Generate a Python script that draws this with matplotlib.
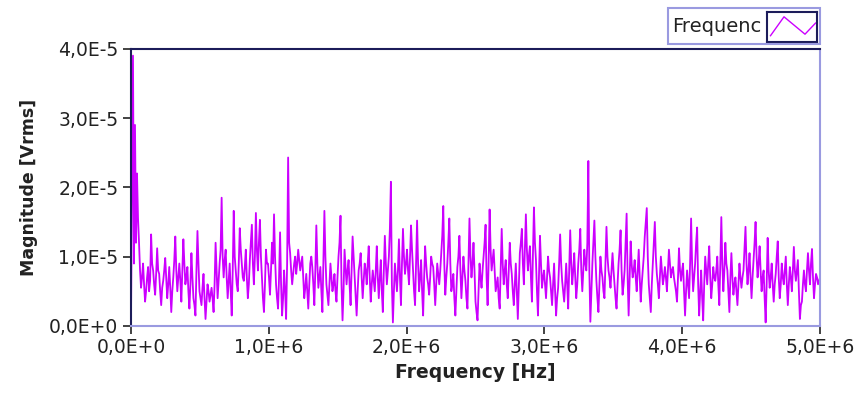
import numpy as np
import matplotlib
matplotlib.use("Agg")
import matplotlib.pyplot as plt
from matplotlib.ticker import FuncFormatter
from matplotlib.patches import Rectangle

# spectrum magnitude, in microvolts rms, evenly spaced from 0 to 5 MHz
magnitude_uv = [
    # 0 - 1 MHz
    0.5, 19.5, 39, 9, 29, 12, 22, 15.5, 12, 8,
    5.5, 7, 9, 6, 3.5, 5, 7, 8.5, 5, 6.5, 13.2, 9, 8, 6, 4.5, 7.5, 11.2, 8, 7.5, 5,
    3, 5.5, 6.5, 8, 9.8, 7, 4, 6, 8.5, 5.5, 2, 5, 7, 9.5, 12.9, 8, 5, 7, 9, 6.5,
    3.5, 8, 12.5, 9, 6, 7, 8.5, 5, 2.5, 6, 10.5, 7, 4, 3, 1.5, 8, 13.7, 9, 5, 4,
    3, 5.5, 7.5, 4, 1, 3.5, 6, 5, 3.5, 4.5, 5.5, 4, 2, 6, 12, 8, 4, 6.5, 9, 11,
    18.5, 10, 7, 9.5, 11, 7, 4, 6.5, 9, 5, 1.5, 8, 16.6, 10, 8, 6, 5, 9, 14.1, 11,
    9, 7, 6.5, 8.5, 11, 7, 4, 6, 9.5, 12, 14.6, 9, 6, 10, 16.3, 11, 8, 12, 15.3, 10,
    7, 4, 2, 6, 11, 9,
    # 1 - 2 MHz
    9, 7, 4.5, 8, 12, 9, 16.1, 10, 6, 4, 2.5, 7, 13.5, 6, 1.5, 4, 8, 5, 1, 9,
    24.3, 12, 10.5, 8, 6, 7.5, 9, 10, 7.5, 9, 11, 9.5, 8, 9, 10, 7, 4, 5.5, 7.5, 5,
    2.5, 6, 9, 10, 8.5, 6, 3, 8, 14.5, 9, 5.5, 7, 8.5, 5, 2, 9, 16.6, 10, 6, 4.5,
    3, 6, 9, 7, 5, 6, 7.5, 5, 3.5, 7, 10, 12, 15.9, 6, 0.8, 5, 11, 8.5, 6, 8,
    9.5, 6, 3, 8, 12.9, 10, 7, 4, 1.5, 5, 8, 9, 10.5, 7, 4, 6.5, 9, 8, 6, 9,
    11.5, 7, 3.5, 6, 8, 6.5, 5, 8, 11.5, 7, 4, 7, 9.5, 5, 2, 8, 13, 9, 6, 8,
    10, 14, 20.8, 6, 0.5, 5, 9, 7, 5, 8, 12.5, 7, 3, 9, 14, 10, 7.5, 9, 11, 8,
    # 2 - 3 MHz
    6, 10, 14.5, 11, 8, 5, 3, 9, 15.2, 9, 5, 7, 9.5, 5, 1.5, 7, 11.5, 9, 7, 6,
    4.5, 7, 10, 9, 8.5, 6, 3, 6, 9, 7.5, 6, 8, 10.5, 13, 17.3, 9, 4.5, 7, 9, 12,
    15.5, 9, 5, 6, 7.5, 4, 1.5, 5, 8.5, 10, 13, 8, 4, 7, 10, 8, 6.5, 4, 2.5, 9,
    15.5, 10, 7, 9, 12, 8, 3.5, 2, 0.8, 5, 9, 7, 5.5, 8, 10, 12, 14.6, 7, 3, 9,
    16.8, 11, 8, 9.5, 11, 8, 5, 6, 7, 4, 2.5, 8, 14, 9, 6, 8, 9.5, 6, 4, 8,
    12, 9, 7.5, 5, 3, 6, 9, 5, 1, 6, 10.5, 12, 14, 9, 6, 11, 16.1, 11, 8, 10,
    11.5, 7, 3.5, 10, 17.1, 12, 9.5, 5, 1.5, 7, 13, 9, 5.5, 7, 8, 6, 4, 7, 10, 8,
    # 3 - 4 MHz
    7, 5, 3, 6, 9, 5, 1.5, 4, 5.5, 9, 13.2, 9, 6.5, 5, 3.5, 6, 9, 6, 2.5, 8,
    13.8, 9, 6, 8, 10.5, 7, 4, 6, 9, 11, 14, 8, 5, 8, 11, 9, 8, 12, 23.8, 8,
    0.6, 5, 9, 12, 15.2, 10, 6.5, 4, 2, 6, 10, 8, 7, 5, 4, 9, 14.3, 10, 8, 7,
    5.5, 8, 10.5, 8, 6, 4, 2.5, 6, 9, 11, 13.8, 8, 4.5, 6, 8, 12, 16.2, 7, 1.5, 7,
    12.2, 9, 7, 8, 9.5, 7, 5, 8, 11, 7, 3.5, 6, 8, 10, 12.9, 15, 17, 10, 6, 4,
    2, 6, 9, 12, 15, 10, 7.5, 6, 4, 7, 10, 8, 6, 7, 8.5, 7, 5, 8, 11, 9,
    7, 8, 8.5, 7, 6, 5, 3.5, 7, 11.2, 8, 6.5, 8, 9, 5, 1.5, 5, 8, 6, 4, 9,
    # 4 - 5 MHz
    15.5, 9, 5, 7, 9, 12, 14.2, 6, 1.5, 5, 8, 4, 0.8, 6, 10, 8, 6, 9, 11.5, 7,
    4, 6, 8.5, 7, 6.5, 8, 10, 6, 3, 9, 15.7, 9, 5, 8, 12, 9, 8, 5, 2, 7,
    10.5, 7, 4.5, 6, 7, 5, 3, 6, 9, 7, 5.5, 7, 8, 11, 14.3, 9, 6, 8, 10.5, 7,
    4, 7, 9.5, 12, 15, 10, 7, 9, 11.5, 8, 5, 7, 8, 4, 0.5, 6, 12.7, 8, 5.5, 7,
    9, 6, 3.5, 6, 7.5, 10, 12.2, 7, 4, 6, 9, 7, 6, 8, 10, 6, 3, 6, 8.5, 7,
    5, 8, 11.4, 8, 6.5, 8, 9.5, 5, 1, 3, 3.5, 6, 8, 6, 5, 8, 10.5, 8, 6, 9,
    11.1, 7, 4, 6, 7.5, 7, 6, 6.5, 7,
]
f_max = 5.0e6
x_ticks = [0, 1e6, 2e6, 3e6, 4e6, 5e6]
y_ticks = [0, 1e-5, 2e-5, 3e-5, 4e-5]

magnitude = np.array(magnitude_uv) * 1e-6
freq = np.linspace(0, f_max, len(magnitude))

trace_color = "#CC00FF"
navy = "#1c1c5a"
lavender = "#9a9ae0"
text_color = "#222222"


def sci_comma(v, pos=None):
    if v == 0:
        return "0,0E+0"
    exp = int(np.floor(np.log10(abs(v)) + 1e-9))
    mant = v / 10 ** exp
    return f"{mant:.1f}".replace(".", ",") + f"E{exp:+d}"


fig = plt.figure(figsize=(8.56, 3.96), dpi=100)
ax = fig.add_axes([0.153, 0.177, 0.805, 0.700])

ax.plot(freq, magnitude, color=trace_color, lw=1.3)

ax.set_xlim(0, f_max)
ax.set_ylim(0, 4e-5)
ax.set_xticks(x_ticks)
ax.set_yticks(y_ticks)
ax.xaxis.set_major_formatter(FuncFormatter(sci_comma))
ax.yaxis.set_major_formatter(FuncFormatter(sci_comma))
ax.tick_params(axis="both", labelsize=13.5, colors=text_color, length=6, width=1.2, pad=3)

ax.set_xlabel("Frequency [Hz]", fontsize=13.5, fontweight="bold", color=text_color, labelpad=4)
ax.set_ylabel("Magnitude [Vrms]", fontsize=12.5, fontweight="bold", color=text_color, labelpad=8)

ax.spines["top"].set_color(navy)
ax.spines["left"].set_color(navy)
ax.spines["bottom"].set_color(lavender)
ax.spines["right"].set_color(lavender)
for s in ax.spines.values():
    s.set_linewidth(1.5)

# legend box in the top right corner
fig.patches.append(Rectangle((668 / 856, 1 - 44 / 396), 152 / 856, 36 / 396,
                             transform=fig.transFigure, fill=False,
                             edgecolor=lavender, lw=1.5))
fig.text(672 / 856, 1 - 27 / 396, "Frequenc", fontsize=14, color=text_color,
         va="center", ha="left")
icon = fig.add_axes([767 / 856, 1 - 42 / 396, 50 / 856, 30 / 396])
icon.set_xlim(0, 1)
icon.set_ylim(0, 1)
icon.plot([0.07, 0.34, 0.76, 0.97], [0.21, 0.84, 0.26, 0.63], color=trace_color, lw=1.0)
icon.set_xticks([])
icon.set_yticks([])
for s in icon.spines.values():
    s.set_color(navy)
    s.set_linewidth(1.5)

fig.savefig("out.png", dpi=100)
